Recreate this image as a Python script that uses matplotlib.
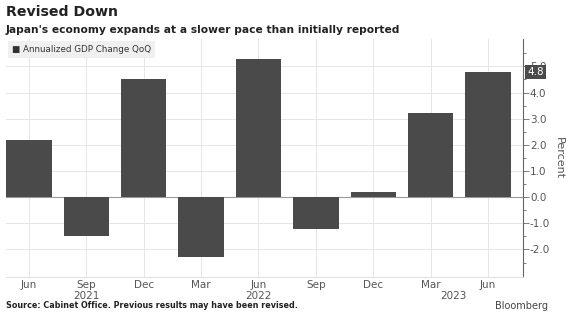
import matplotlib.pyplot as plt

# quarterly annualized GDP change, percent
quarters = ["Jun", "Sep", "Dec", "Mar", "Jun", "Sep", "Dec", "Mar", "Jun"]
gdp_change = [2.2, -1.5, 4.5, -2.3, 5.3, -1.2, 0.2, 3.2, 4.8]
years = ["2021", "2022", "2023"]
year_pos = [1, 4, 7.4]
y_ticks = [-2.0, -1.0, 0.0, 1.0, 2.0, 3.0, 4.0, 5.0]

bar_color = "#4a4a4a"
grid_color = "#e6e6e6"
text_color = "#222222"
tick_color = "#555555"

fig = plt.figure(figsize=(5.66, 3.22), dpi=100)
ax = fig.add_axes([0.0106, 0.140, 0.9134, 0.739])

x = list(range(len(quarters)))
ax.bar(x, gdp_change, width=0.79, color=bar_color, zorder=3)
ax.axhline(0, color="#9a9a9a", lw=0.8, zorder=2)

ax.set_xlim(-0.40, 8.61)
ax.set_ylim(-3.05, 6.05)

ax.set_yticks(y_ticks)
ax.set_yticks([v + 0.5 for v in [-3.0] + y_ticks], minor=True)
ax.yaxis.tick_right()
ax.yaxis.set_label_position("right")
ax.set_yticklabels([f"{v:.1f}" for v in y_ticks])
ax.tick_params(axis="y", which="major", length=4, width=0.6, color="#666666",
               labelsize=7.5, labelcolor=tick_color, pad=1)
ax.tick_params(axis="y", which="minor", length=2, width=0.6, color="#666666")
ax.set_ylabel("Percent", rotation=270, labelpad=10, fontsize=8, color=tick_color)

ax.set_xticks(x)
ax.set_xticklabels(quarters)
ax.tick_params(axis="x", length=0, labelsize=7.5, labelcolor=tick_color, pad=2)
for label, pos in zip(years, year_pos):
    ax.text(pos, -0.058, label, transform=ax.get_xaxis_transform(),
            ha="center", va="top", fontsize=7.5, color=tick_color)

ax.grid(True, axis="both", color=grid_color, lw=0.7, zorder=0)
for side in ["top", "left"]:
    ax.spines[side].set_visible(False)
ax.spines["right"].set_color("#666666")
ax.spines["right"].set_linewidth(0.8)
ax.spines["bottom"].set_color("#dddddd")
ax.spines["bottom"].set_linewidth(0.7)

# latest value tag on the axis
ax.annotate(f"{gdp_change[-1]:.1f}", xy=(1.0, gdp_change[-1]),
            xycoords=ax.get_yaxis_transform(), xytext=(3, 0),
            textcoords="offset points", ha="left", va="center",
            fontsize=7.5, color="white",
            bbox=dict(boxstyle="square,pad=0.2", fc="#4a4a4a", ec="none"),
            zorder=5, annotation_clip=False)

# legend box
ax.text(0.012, 0.975, "\u25a0 Annualized GDP Change QoQ", transform=ax.transAxes,
        ha="left", va="top", fontsize=6.3, color="#333333",
        bbox=dict(boxstyle="square,pad=0.45", fc="#f0f0f0", ec="none"), zorder=6)

fig.text(0.0106, 0.962, "Revised Down", fontsize=10.2, fontweight="bold",
         color=text_color, ha="left", va="center")
fig.text(0.0106, 0.908, "Japan's economy expands at a slower pace than initially reported",
         fontsize=7.7, fontweight="bold", color=text_color, ha="left", va="center")
fig.text(0.0106, 0.05, "Source: Cabinet Office. Previous results may have been revised.",
         fontsize=5.8, fontweight="bold", color=text_color, ha="left", va="center")
fig.text(0.968, 0.05, "Bloomberg", fontsize=7, color="#444444",
         ha="right", va="center")

fig.savefig("out.png", dpi=100)
